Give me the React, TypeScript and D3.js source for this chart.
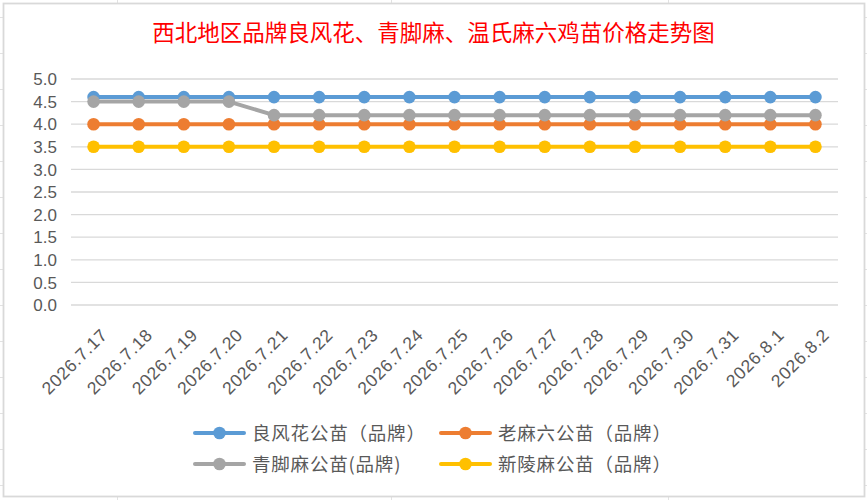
import React from "react";
import * as d3 from "d3";

const TITLE = "西北地区品牌良风花、青脚麻、温氏麻六鸡苗价格走势图";

const dates = [
  "2026.7.17", "2026.7.18", "2026.7.19", "2026.7.20", "2026.7.21", "2026.7.22",
  "2026.7.23", "2026.7.24", "2026.7.25", "2026.7.26", "2026.7.27", "2026.7.28",
  "2026.7.29", "2026.7.30", "2026.7.31", "2026.8.1", "2026.8.2",
];

const liangFengHua = [4.6, 4.6, 4.6, 4.6, 4.6, 4.6, 4.6, 4.6, 4.6, 4.6, 4.6, 4.6, 4.6, 4.6, 4.6, 4.6, 4.6];
const laoMaLiu = [4.0, 4.0, 4.0, 4.0, 4.0, 4.0, 4.0, 4.0, 4.0, 4.0, 4.0, 4.0, 4.0, 4.0, 4.0, 4.0, 4.0];
const qingJiaoMa = [4.5, 4.5, 4.5, 4.5, 4.2, 4.2, 4.2, 4.2, 4.2, 4.2, 4.2, 4.2, 4.2, 4.2, 4.2, 4.2, 4.2];
const xinLingMa = [3.5, 3.5, 3.5, 3.5, 3.5, 3.5, 3.5, 3.5, 3.5, 3.5, 3.5, 3.5, 3.5, 3.5, 3.5, 3.5, 3.5];

const seriesNames = ["良风花公苗（品牌）", "老麻六公苗（品牌）", "青脚麻公苗(品牌)", "新陵麻公苗（品牌）"];
const seriesColors = ["#5B9BD5", "#ED7D31", "#A5A5A5", "#FFC000"];
const seriesValues = [liangFengHua, laoMaLiu, qingJiaoMa, xinLingMa];

const yTicks = [0, 0.5, 1, 1.5, 2, 2.5, 3, 3.5, 4, 4.5, 5];

const W = 867;
const H = 500;
const LATIN = "'Liberation Sans', Arial, sans-serif";
const CJK = "'Noto Sans CJK SC', sans-serif";

export default function App() {
  const x = d3.scaleBand<string>().domain(dates).range([71, 838]).padding(0);
  const y = d3.scaleLinear().domain([0, 5]).range([305, 79]);
  const cx = (d: string) => (x(d) ?? 0) + x.bandwidth() / 2;

  const line = d3
    .line<number>()
    .x((_, i) => cx(dates[i]))
    .y((v) => y(v));

  const cellRows = d3.range(17, H, 36);
  const cellCols = [117, 391, 668];

  const legendItems = seriesNames.map((name, i) => ({
    name,
    color: seriesColors[i],
    lx: i % 2 === 0 ? 195 : 441,
    ly: i < 2 ? 433 : 464,
  }));

  return (
    <div style={{ position: "fixed", left: 0, top: 0, width: W, height: H }}>
      <svg width={W} height={H} style={{ display: "block" }}>
        <rect x={0} y={0} width={W} height={H} fill="#ffffff" />
        {cellRows.map((r) => (
          <line key={"r" + r} x1={0} x2={W} y1={r + 0.5} y2={r + 0.5} stroke="#e2e2e2" strokeWidth={1} />
        ))}
        {cellCols.map((c) => (
          <line key={"c" + c} x1={c + 0.5} x2={c + 0.5} y1={0} y2={H} stroke="#e2e2e2" strokeWidth={1} />
        ))}
        <rect x={3.5} y={3.5} width={861} height={493} fill="#ffffff" stroke="#d9d9d9" strokeWidth={1.8} />

        <text x={433.5} y={41} textAnchor="middle" fill="#ff0000" fontFamily={CJK} fontSize={22.5}>
          {TITLE}
        </text>

        {yTicks.map((t) => (
          <g key={"g" + t}>
            <line x1={71} x2={838} y1={y(t)} y2={y(t)} stroke="#d9d9d9" strokeWidth={1.3} />
            <text x={57} y={y(t)} dy="0.36em" textAnchor="end" fill="#595959" fontFamily={LATIN} fontSize={17}>
              {d3.format(".1f")(t)}
            </text>
          </g>
        ))}

        {dates.map((d) => (
          <text
            key={d}
            transform={`translate(${cx(d) + 15},336) rotate(-45)`}
            textAnchor="end"
            fill="#595959"
            fontFamily={LATIN}
            fontSize={17.5}
            letterSpacing={0.7}
          >
            {d}
          </text>
        ))}

        {seriesValues.map((vals, si) => (
          <g key={"s" + si}>
            <path d={line(vals) ?? ""} fill="none" stroke={seriesColors[si]} strokeWidth={4} strokeLinejoin="round" strokeLinecap="round" />
            {vals.map((v, i) => (
              <circle key={i} cx={cx(dates[i])} cy={y(v)} r={6.3} fill={seriesColors[si]} />
            ))}
          </g>
        ))}

        {legendItems.map((it) => (
          <g key={it.name}>
            <line x1={it.lx} x2={it.lx + 49} y1={it.ly} y2={it.ly} stroke={it.color} strokeWidth={4} strokeLinecap="round" />
            <circle cx={it.lx + 24.5} cy={it.ly} r={6.3} fill={it.color} />
            <text x={it.lx + 57} y={it.ly} dy="0.36em" fill="#595959" fontFamily={CJK} fontSize={18.5} letterSpacing={0.8}>
              {it.name}
            </text>
          </g>
        ))}
      </svg>
    </div>
  );
}
